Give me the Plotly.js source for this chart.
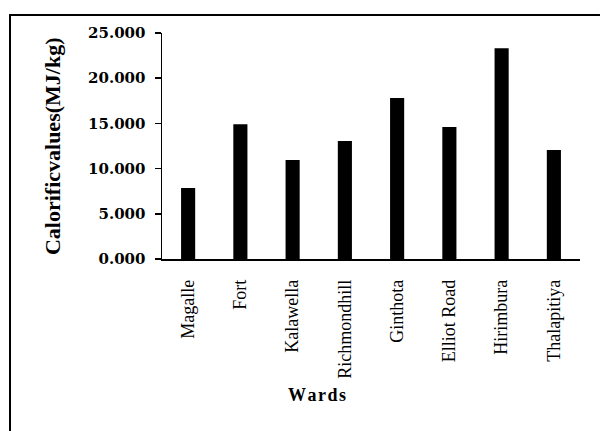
<!DOCTYPE html>
<html>
<head>
<meta charset="utf-8">
<script src="https://cdn.plot.ly/plotly-3.0.1.min.js"></script>
<style>html,body{margin:0;padding:0;background:#fff;}</style>
</head>
<body>
<div id="chart" style="width:600px;height:431px;"></div>
<script>
const wards = ["Magalle", "Fort", "Kalawella", "Richmondhill", "Ginthota", "Elliot Road", "Hirimbura", "Thalapitiya"];
const calorificValues = [7.85, 14.9, 10.95, 13.05, 17.8, 14.6, 23.3, 12.05];
const yTickValues = [0, 5, 10, 15, 20, 25];
const yTitle = "Calorificvalues(MJ/kg)";
const xTitle = "W\u200Aa\u200Ar\u200Ad\u200As";

const trace = {
  type: "bar",
  x: wards,
  y: calorificValues,
  marker: {color: "#000000", line: {width: 0}},
  width: 0.27,
  hoverinfo: "x+y"
};

const layout = {
  width: 600,
  height: 431,
  margin: {l: 162, r: 20, t: 33, b: 172},
  paper_bgcolor: "#ffffff",
  plot_bgcolor: "#ffffff",
  showlegend: false,
  font: {family: "Liberation Serif, serif", color: "#000"},
  xaxis: {
    type: "category",
    showline: true,
    linecolor: "#000",
    linewidth: 1.5,
    ticks: "",
    tickangle: -90,
    tickfont: {family: "Liberation Serif, serif", size: 18, color: "#000"},
    ticklabelstandoff: 12,
    showgrid: false,
    zeroline: false
  },
  yaxis: {
    range: [0, 25],
    tickvals: yTickValues,
    tickformat: ".3f",
    showline: true,
    linecolor: "#000",
    linewidth: 1.5,
    ticks: "outside",
    ticklen: 6,
    tickwidth: 1.5,
    tickcolor: "#000",
    tickfont: {family: "DejaVu Serif, serif", size: 15, color: "#000", weight: "bold"},
    ticklabelstandoff: 6,
    showgrid: false,
    zeroline: false
  },
  annotations: [
    {
      text: "<b>" + yTitle + "</b>",
      xref: "paper", yref: "paper",
      x: -0.263, y: 0.5,
      xanchor: "center", yanchor: "middle",
      textangle: -90,
      showarrow: false,
      font: {family: "Liberation Serif, serif", size: 22, color: "#000"}
    },
    {
      text: "<b>" + xTitle + "</b>",
      xref: "paper", yref: "paper",
      x: 0.371, y: -0.602,
      xanchor: "center", yanchor: "middle",
      showarrow: false,
      font: {family: "Liberation Serif, serif", size: 18, color: "#000"}
    }
  ],
  shapes: [
    {
      type: "path",
      xref: "paper", yref: "paper",
      path: "M -0.3636 -0.77 L -0.3636 1.0796 L 1.0478 1.0796",
      line: {color: "#000", width: 2}
    }
  ]
};

Plotly.newPlot("chart", [trace], layout, {displayModeBar: false, staticPlot: true});
</script>
</body>
</html>
